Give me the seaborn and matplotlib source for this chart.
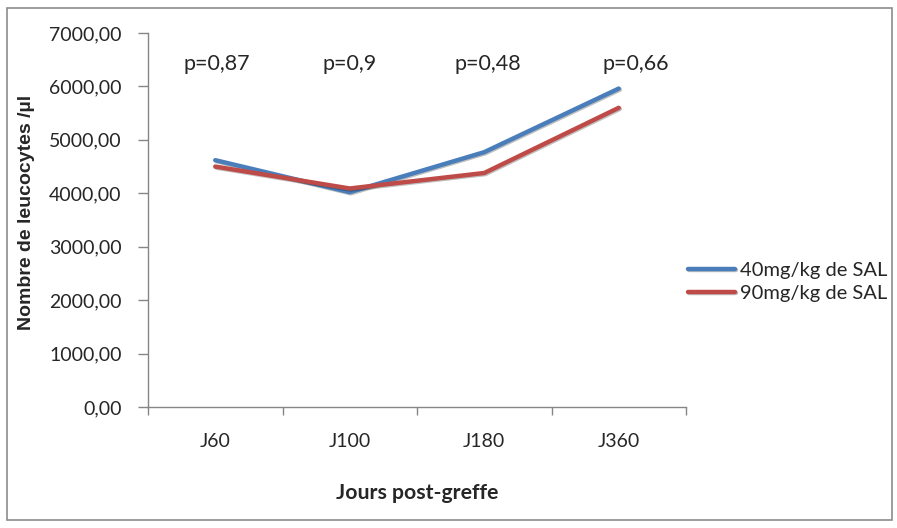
import pandas as pd
import matplotlib.pyplot as plt
import matplotlib.patheffects as pe
from matplotlib.patches import Rectangle
from matplotlib.ticker import FuncFormatter, FixedLocator
import seaborn as sns

# data
jours = ["J60", "J100", "J180", "J360"]
sal_40 = [4620, 4020, 4770, 5960]
sal_90 = [4500, 4090, 4380, 5600]
p_values = ["p=0,87", "p=0,9", "p=0,48", "p=0,66"]
p_x = [0.01, 0.0, 0.03, 0.13]

df = pd.DataFrame({
    "jour": jours * 2,
    "leuco": sal_40 + sal_90,
    "groupe": ["40mg/kg de SAL"] * 4 + ["90mg/kg de SAL"] * 4,
})

sns.set_style("white")
plt.rcParams["font.family"] = ["Lato", "DejaVu Sans"]

fig = plt.figure(figsize=(8.97, 5.28), dpi=100)
ax = fig.add_axes([148 / 897, 1 - 407 / 528, 538 / 897, 374 / 528])

sns.lineplot(data=df, x="jour", y="leuco", hue="groupe", sort=False,
             palette=["#4A7EBB", "#BE4B48"], linewidth=3.2, ax=ax,
             path_effects=[pe.SimpleLineShadow(offset=(0.8, -0.8), alpha=0.25),
                           pe.Normal()])

ax.set_xlim(-0.5, 3.5)
ax.set_ylim(0, 7000)
ax.set_yticks(range(0, 7001, 1000))
ax.yaxis.set_major_formatter(FuncFormatter(lambda v, _: f"{v:.2f}".replace(".", ",")))
ax.xaxis.set_minor_locator(FixedLocator([-0.5, 0.5, 1.5, 2.5, 3.5]))
ax.tick_params(axis="x", which="major", length=0, pad=19, labelsize=14)
ax.tick_params(axis="x", which="minor", length=6, color="#868686", width=1, direction="out", bottom=True)
ax.tick_params(axis="y", length=7, color="#868686", width=1, direction="out", left=True, labelsize=14, pad=12)

for s in ["top", "right"]:
    ax.spines[s].set_visible(False)
for s in ["left", "bottom"]:
    ax.spines[s].set_color("#868686")
    ax.spines[s].set_linewidth(1)

ax.set_xlabel("Jours post-greffe", fontsize=15.3, fontweight="bold")
ax.xaxis.set_label_coords(0.5, -0.23)
ax.xaxis.label.set_va("center")
ax.set_ylabel("Nombre de leucocytes /µl", fontsize=14, fontweight="bold",
              family=["Liberation Sans", "DejaVu Sans"])
ax.yaxis.set_label_coords(-0.225, 0.52)
ax.yaxis.label.set_va("center")

for i, (txt, dx) in enumerate(zip(p_values, p_x)):
    ax.text(i + dx, 6300, txt, ha="center", va="baseline", fontsize=15.5)

handles, labels = ax.get_legend_handles_labels()
leg = fig.legend(handles, labels, loc="center left", bbox_to_anchor=(688 / 897, 1 - 282 / 528),
                 frameon=False, fontsize=14.5, handlelength=2.35, handletextpad=0.25,
                 labelspacing=0.3, borderaxespad=0, borderpad=0)
ax.get_legend().remove()

fig.patches.append(Rectangle((7 / 897, 8 / 528), 885 / 897, 512 / 528,
                             transform=fig.transFigure, fill=False,
                             edgecolor="#8c8c8c", linewidth=1.2))

plt.savefig("out.png", dpi=100)
